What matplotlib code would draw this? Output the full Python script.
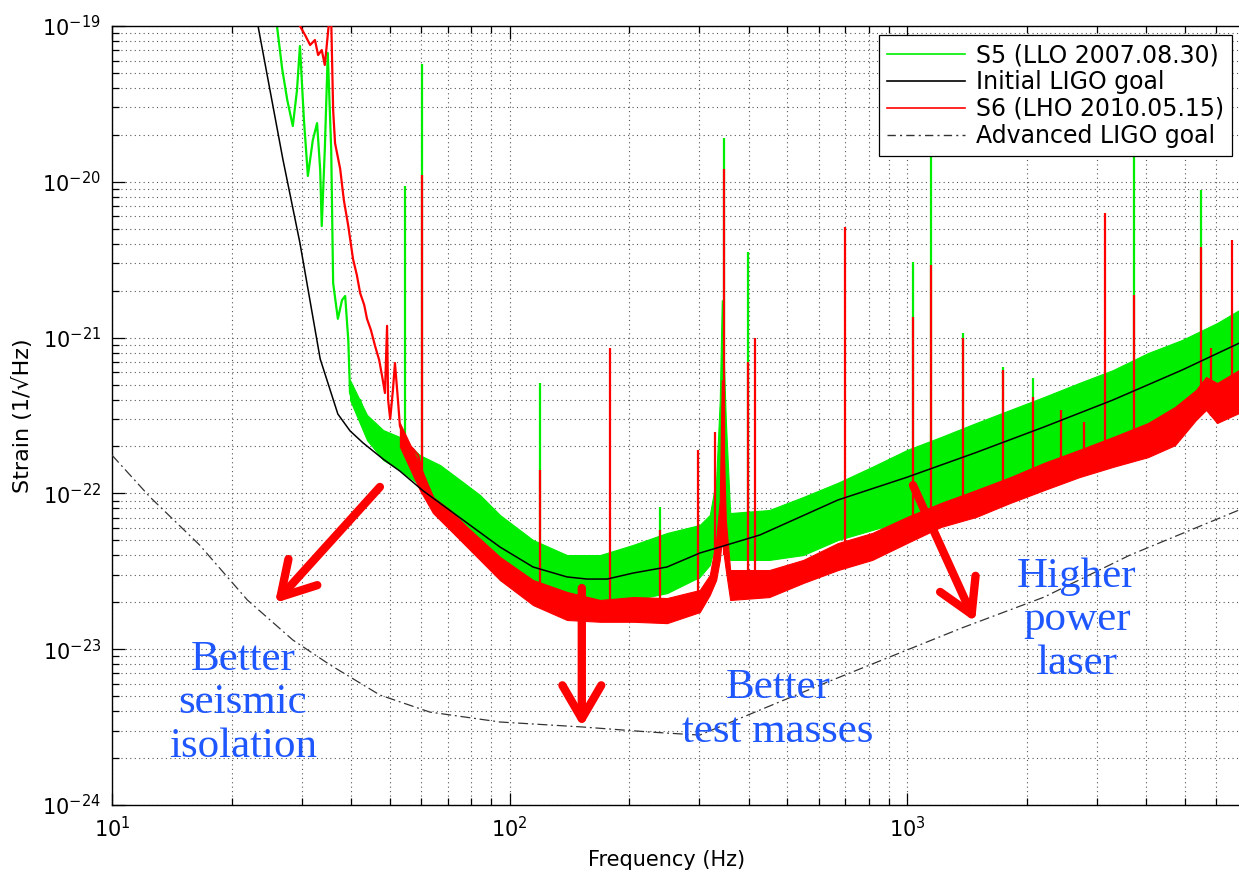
import numpy as np
import matplotlib
matplotlib.use('Agg')
import matplotlib.pyplot as plt
from matplotlib.lines import Line2D
from matplotlib.ticker import LogLocator, NullFormatter, FixedLocator, FixedFormatter

plt.rcParams['font.family'] = ['DejaVu Sans']
plt.rcParams['mathtext.fontset'] = 'dejavusans'
plt.rcParams['axes.unicode_minus'] = False

# ---------------- data ----------------
x_ticks = [10, 100, 1000]
x_tick_labels = [r'$10^{1}$', r'$10^{2}$', r'$10^{3}$']
y_ticks = [1e-24, 1e-23, 1e-22, 1e-21, 1e-20, 1e-19]
y_tick_labels = [r'$10^{-24}$', r'$10^{-23}$', r'$10^{-22}$', r'$10^{-21}$',
                 r'$10^{-20}$', r'$10^{-19}$']

# Initial LIGO goal
init_f = [23.3, 26.9, 29.7, 33.4, 37.0, 39.7, 42.8, 48.1, 53.0, 60.6, 78.2, 94.6,
          114.6, 139.5, 156.7, 176, 204.5, 249, 301, 365, 426.6, 670, 1000, 1483,
          2212, 3298, 4918, 6841]
init_s = [1e-19, 1.40e-20, 4.05e-21, 7.29e-22, 3.23e-22, 2.52e-22, 2.11e-22, 1.66e-22,
          1.39e-22, 1.04e-22, 6.46e-23, 4.53e-23, 3.37e-23, 2.91e-23, 2.82e-23, 2.82e-23,
          3.08e-23, 3.37e-23, 4.14e-23, 4.80e-23, 5.41e-23, 9.07e-23, 1.27e-22, 1.82e-22,
          2.67e-22, 3.98e-22, 6.19e-22, 9.2e-22]

# Advanced LIGO goal
adv_f = [10, 12.46, 16.6, 21.9, 28.5, 35.4, 47.2, 63.0, 94.6, 152, 225.7, 301,
         426.6, 640, 1375, 2212, 3639, 6841]
adv_s = [1.76e-22, 9.48e-23, 4.67e-23, 2.07e-23, 1.146e-23, 7.92e-24, 5.08e-24,
         3.95e-24, 3.41e-24, 3.17e-24, 2.94e-24, 2.81e-24, 4.07e-24, 6.25e-24,
         1.37e-23, 2.16e-23, 4.02e-23, 7.82e-23]

# S5 low-frequency trace
s5_trace_f = [26.0, 26.8, 27.6, 28.5, 29.2, 29.7, 30.4, 31.1, 32.0, 32.8, 33.4, 33.7,
              34.3, 34.9, 35.6, 36.0, 37.0, 37.9, 38.6, 39.3, 39.7, 41.1, 42.1, 43.8,
              45.9, 48.1, 50.1, 53.0, 55.6, 58.5, 62.4, 65.7]
s5_trace_s = [1e-19, 5.30e-20, 3.35e-20, 2.28e-20, 3.88e-20, 7.44e-20, 2.49e-20, 1.09e-20,
              1.85e-20, 2.38e-20, 1.19e-20, 5.20e-21, 1.60e-20, 6.71e-20, 1.60e-20, 2.24e-21,
              1.32e-21, 1.74e-21, 1.85e-21, 9.65e-22, 4.41e-22, 3.43e-22, 3.98e-22, 2.71e-22,
              2.20e-22, 2.01e-22, 1.76e-22, 1.50e-22, 1.41e-22, 1.24e-22, 1.10e-22, 1.006e-22]

# S5 noise band (upper / lower envelopes)
s5_band_f = [39.7, 43.8, 48.1, 53.0, 59.5, 66.9, 75.1, 84.3, 94.6, 114.6, 139.5, 169,
             204.5, 249, 301, 319, 331, 338, 342, 350, 359, 450, 548, 670, 817, 1000,
             1217, 1492, 1816, 2212, 2709, 3298, 4040, 4918, 6026, 6841]
s5_band_hi = [5.34e-22, 3.19e-22, 2.55e-22, 2.30e-22, 1.76e-22, 1.52e-22, 1.22e-22,
              9.76e-23, 7.27e-23, 5.02e-23, 4.02e-23, 4.02e-23, 4.67e-23, 5.57e-23,
              6.27e-23, 7.27e-23, 1.22e-22, 3.98e-22, 1.74e-21, 2.96e-22, 7.48e-23,
              7.82e-23, 9.48e-23, 1.17e-22, 1.48e-22, 1.90e-22, 2.30e-22, 2.83e-22,
              3.43e-22, 4.16e-22, 5.11e-22, 6.19e-22, 7.96e-22, 9.65e-22, 1.24e-21, 1.50e-21]
s5_band_lo = [3.98e-22, 2.20e-22, 1.64e-22, 1.41e-22, 1.13e-22, 7.82e-23, 5.41e-23,
              4.46e-23, 2.78e-23, 2.29e-23, 2.07e-23, 2.07e-23, 2.07e-23, 2.29e-23,
              2.91e-23, 3.47e-23, 5.02e-23, 7.82e-23, 9.07e-23, 5.82e-23, 3.74e-23,
              3.74e-23, 4.02e-23, 5.02e-23, 5.82e-23, 6.75e-23, 8.42e-23, 9.76e-23,
              1.17e-22, 1.41e-22, 1.71e-22, 2.04e-22, 2.48e-22, 3.19e-22, 3.98e-22, 4.28e-22]

# S5 spectral lines (frequency, top)
s5_line_f = [54.6, 60.2, 119.3, 239, 346, 398, 1035, 1149, 1383, 1744, 2075, 3725, 5490]
s5_line_top = [9.4e-21, 5.70e-20, 5.11e-22, 8.18e-23, 1.91e-20, 3.54e-21, 3.06e-21,
               1.60e-20, 1.07e-21, 6.48e-22, 5.50e-22, 1.60e-20, 8.86e-21]

# S6 low-frequency trace
s6_trace_f = [29.7, 30.6, 31.5, 32.4, 33.0, 33.7, 34.3, 34.7, 35.2, 35.6, 36.0, 36.4,
              37.5, 38.3, 39.3, 40.4, 41.3, 42.1, 43.1, 43.8, 44.8, 45.9, 47.0, 47.8,
              48.6, 49.2, 49.5, 50.1, 50.9, 51.5, 52.4, 53.0, 54.3, 55.2, 56.2, 57.2,
              58.9, 60.6, 64.2]
s6_trace_s = [1e-19, 8.75e-20, 7.55e-20, 8.13e-20, 6.51e-20, 7.01e-20, 5.62e-20, 7.55e-20,
              1.1e-19, 1.1e-19, 2.89e-20, 1.77e-20, 1.21e-20, 7.64e-21, 5.20e-21, 3.19e-21,
              2.52e-21, 1.93e-21, 1.62e-21, 1.32e-21, 1.12e-21, 8.83e-22, 7.18e-22, 5.67e-22,
              4.41e-22, 1.19e-21, 3.98e-22, 3.00e-22, 4.61e-22, 6.87e-22, 3.98e-22, 2.71e-22,
              2.30e-22, 2.11e-22, 2.01e-22, 1.93e-22, 1.76e-22, 1.29e-22, 9.48e-23]

# S6 noise band
s6_band_f = [53.0, 59.5, 64.2, 70.9, 78.2, 94.6, 114.6, 139.5, 169, 204.5, 249, 301,
             319, 331, 338, 342, 350, 359, 450, 548, 670, 817, 1000, 1217, 1492, 1816,
             2212, 2709, 3298, 4040, 4723, 5333, 5653, 6026, 6841]
s6_band_hi = [2.83e-22, 1.52e-22, 9.48e-23, 7.82e-23, 6.09e-23, 3.91e-23, 2.78e-23,
              2.33e-23, 2.07e-23, 2.16e-23, 2.13e-23, 2.40e-23, 2.99e-23, 5.02e-23,
              9.07e-23, 5.34e-22, 6.75e-23, 3.22e-23, 3.22e-23, 3.74e-23, 4.80e-23,
              5.57e-23, 7.06e-23, 8.68e-23, 1.05e-22, 1.27e-22, 1.57e-22, 1.90e-22,
              2.30e-22, 2.83e-22, 3.59e-22, 4.61e-22, 5.59e-22, 5.11e-22, 6.19e-22]
s6_band_lo = [1.99e-22, 1.05e-22, 7.48e-23, 5.82e-23, 4.53e-23, 2.78e-23, 1.92e-23,
              1.54e-23, 1.50e-23, 1.50e-23, 1.47e-23, 1.73e-23, 2.23e-23, 2.78e-23,
              3.74e-23, 5.02e-23, 3.22e-23, 2.07e-23, 2.16e-23, 2.66e-23, 3.22e-23,
              3.74e-23, 4.80e-23, 6.09e-23, 7.06e-23, 8.68e-23, 1.05e-22, 1.27e-22,
              1.48e-22, 1.71e-22, 2.04e-22, 2.96e-22, 3.43e-22, 2.83e-22, 3.28e-22]

# S6 spectral lines
s6_line_f = [60.2, 119.3, 179, 239, 298, 329, 346, 398, 415, 698, 1035, 1149, 1383,
             1744, 2075, 2440, 2788, 3149, 3725, 5490, 5820, 6572]
s6_line_top = [1.105e-20, 1.41e-22, 8.57e-22, 5.82e-23, 1.90e-22, 2.48e-22, 1.21e-20,
               6.97e-22, 9.94e-22, 5.13e-21, 1.36e-21, 2.92e-21, 9.94e-22, 6.19e-22,
               4.16e-22, 3.43e-22, 2.87e-22, 6.30e-21, 1.88e-21, 3.82e-21, 8.57e-22, 4.23e-21]

legend_labels = ['S5 (LLO 2007.08.30)', 'Initial LIGO goal',
                 'S6 (LHO 2010.05.15)', 'Advanced LIGO goal']

# annotation arrows: (tail, head) in data units
arrows = [((47.2, 1.10e-22), (25.7, 1.98e-23)),
          ((152, 2.47e-23), (152, 3.17e-24)),
          ((1035, 1.13e-22), (1483, 1.50e-23))]

GREEN = '#00ee00'
RED = '#ff0000'
BLUE = '#1f57ff'

# ---------------- figure ----------------
fig = plt.figure(figsize=(12.39, 8.75), dpi=100)
ax = fig.add_axes([112/1239, 1-805/875, 1127/1239, 779/875])
ax.set_xscale('log')
ax.set_yscale('log')
ax.set_xlim(10, 6841)
ax.set_ylim(1e-24, 1e-19)


def base_at(freqs, band_f, band_lo):
    return 10 ** np.interp(np.log10(freqs), np.log10(band_f), np.log10(band_lo))


# S5 (green)
ax.fill_between(s5_band_f, s5_band_lo, s5_band_hi, color=GREEN, lw=0.8, zorder=2)
ax.plot(s5_trace_f, s5_trace_s, color=GREEN, lw=1.6, zorder=2)
ax.vlines(s5_line_f, base_at(s5_line_f, s5_band_f, s5_band_lo), s5_line_top,
          color=GREEN, lw=1.6, zorder=2)

# S6 (red)
ax.fill_between(s6_band_f, s6_band_lo, s6_band_hi, color=RED, lw=0.8, zorder=3)
ax.plot(s6_trace_f, s6_trace_s, color=RED, lw=1.6, zorder=3)
ax.vlines(s6_line_f, base_at(s6_line_f, s6_band_f, s6_band_lo), s6_line_top,
          color=RED, lw=1.6, zorder=3)

# goals
ax.plot(init_f, init_s, color='black', lw=1.1, zorder=4)
ax.plot(adv_f, adv_s, color='#333333', lw=0.9, ls=(0, (8, 3, 1.5, 3)), zorder=4)

# grid & ticks
ax.xaxis.set_major_locator(FixedLocator(x_ticks))
ax.xaxis.set_major_formatter(FixedFormatter(x_tick_labels))
ax.yaxis.set_major_locator(FixedLocator(y_ticks))
ax.yaxis.set_major_formatter(FixedFormatter(y_tick_labels))
ax.xaxis.set_minor_locator(LogLocator(base=10, subs=np.arange(2, 10), numticks=50))
ax.yaxis.set_minor_locator(LogLocator(base=10, subs=np.arange(2, 10), numticks=50))
ax.xaxis.set_minor_formatter(NullFormatter())
ax.yaxis.set_minor_formatter(NullFormatter())
ax.grid(True, which='both', color='#555555', lw=0.8, ls=(0, (1, 3)), zorder=1)
ax.set_axisbelow(True)
ax.tick_params(which='both', direction='in', top=True, right=False, labelsize=15,
               width=0.9, pad=8)
ax.tick_params(which='major', length=9)
ax.tick_params(which='minor', length=5)
for lbl in ax.get_yticklabels():
    lbl.set_verticalalignment('center_baseline')
ax.spines['right'].set_visible(False)
for s in ['left', 'bottom', 'top']:
    ax.spines[s].set_linewidth(1.0)

ax.set_xlabel('Frequency (Hz)', fontsize=15)
ax.set_ylabel('Strain (1/\u221aHz)', fontsize=16)
ax.xaxis.set_label_coords(0.4925, -0.0578)
ax.yaxis.set_label_coords(-0.0701, 0.5)

# arrows
for tail, head in arrows:
    ax.annotate('', xy=head, xytext=tail, zorder=5,
                arrowprops=dict(arrowstyle='->,head_length=1.2,head_width=0.7',
                                lw=6, color=RED, shrinkA=0, shrinkB=0,
                                mutation_scale=20))

# blue annotation texts (axes fraction)
txt_kw = dict(transform=ax.transAxes, family='Liberation Serif', fontsize=31,
              color=BLUE, ha='center', va='center', multialignment='center',
              linespacing=1.17, zorder=6)
ax.text((243-112)/1127, (805-703)/779, 'Better\nseismic\nisolation', **txt_kw)
ax.text((778-112)/1127, (805-710)/779, 'Better\ntest masses', **txt_kw)
ax.text((1077-112)/1127, (805-620)/779, 'Higher\npower\nlaser', **txt_kw)

# legend
handles = [Line2D([], [], color=GREEN, lw=1.2),
           Line2D([], [], color='black', lw=1.2),
           Line2D([], [], color=RED, lw=1.2),
           Line2D([], [], color='#333333', lw=1.0, ls=(0, (6, 3, 1.5, 3)))]
leg = ax.legend(handles, legend_labels, loc='upper right',
                bbox_to_anchor=((1232-112)/1127, (805-35)/779), borderaxespad=0,
                fontsize=17, handlelength=3.3, handletextpad=0.45, labelspacing=0.12,
                borderpad=0.35, frameon=True, fancybox=False, edgecolor='black',
                framealpha=1)
leg.get_frame().set_linewidth(0.9)
leg.set_zorder(7)

fig.savefig('out.png', dpi=100)
